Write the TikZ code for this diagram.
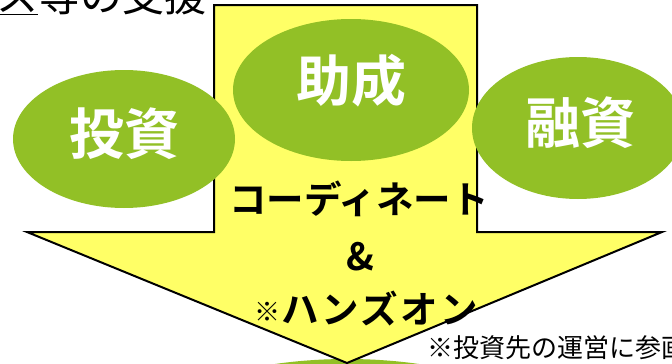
\documentclass[tikz,border=0pt]{standalone}
\usepackage{fontspec}
\setmainfont{Noto Sans CJK JP}
\newfontfamily\jpb{Noto Sans CJK JP}[UprightFont=* Bold]
\definecolor{arrowyellow}{RGB}{255,255,102}
\definecolor{leafgreen}{RGB}{146,192,38}
\begin{document}
\begin{tikzpicture}[x=1pt,y=-1pt,
  bubbletext/.style={text=white, font=\jpb\fontsize{55}{55}\selectfont, inner sep=0pt},
  blacktext/.style={text=black, font=\jpb\fontsize{37.5}{37.5}\selectfont, inner sep=0pt},
  plaintext/.style={text=black, inner sep=0pt}]
\useasboundingbox (0,0) rectangle (672,364);
% bottom ellipse (behind arrow)
\fill[leafgreen] (347,430) ellipse [x radius=195pt, y radius=71pt];
% big arrow
\coordinate (a1) at (214,5);
\coordinate (a2) at (477,5);
\coordinate (a3) at (477,232);
\coordinate (a4) at (662,232);
\coordinate (a5) at (347,363);
\coordinate (a6) at (27,232);
\coordinate (a7) at (214,232);
\draw[line width=2pt, fill=arrowyellow, line join=miter] (a1) -- (a2) -- (a3) -- (a4) -- (a5) -- (a6) -- (a7) -- cycle;
% ellipses
\fill[leafgreen] (124,139) ellipse [x radius=111pt, y radius=69pt];
\fill[leafgreen] (351,90) ellipse [x radius=118pt, y radius=71pt];
\fill[leafgreen] (578,128) ellipse [x radius=106pt, y radius=71pt];
\node[bubbletext] (toshi) at (124,134) {投資};
\node[bubbletext] (josei) at (351,81) {助成};
\node[bubbletext] (yushi) at (580,123) {融資};
% center text
\node[blacktext] (coord) at (359,199) {コーディネート};
\node[blacktext] (amp) at (360,257) {\&};
\node[blacktext, anchor=base west] (hands) at (281,323) {\addfontfeature{LetterSpace=7}ハンズオン};
\node[plaintext, font=\jpb\fontsize{26}{26}\selectfont, anchor=base east] (kome) at (281,321) {※};
% top-left text
\node[plaintext, font=\fontsize{42}{42}\selectfont, anchor=base west] (top) at (-4,12) {\underline{ス}等の支援};
% bottom-right note
\node[plaintext, font=\fontsize{26}{26}\selectfont, anchor=base west] (note) at (427,357) {※投資先の運営に参画};
\end{tikzpicture}
\end{document}
